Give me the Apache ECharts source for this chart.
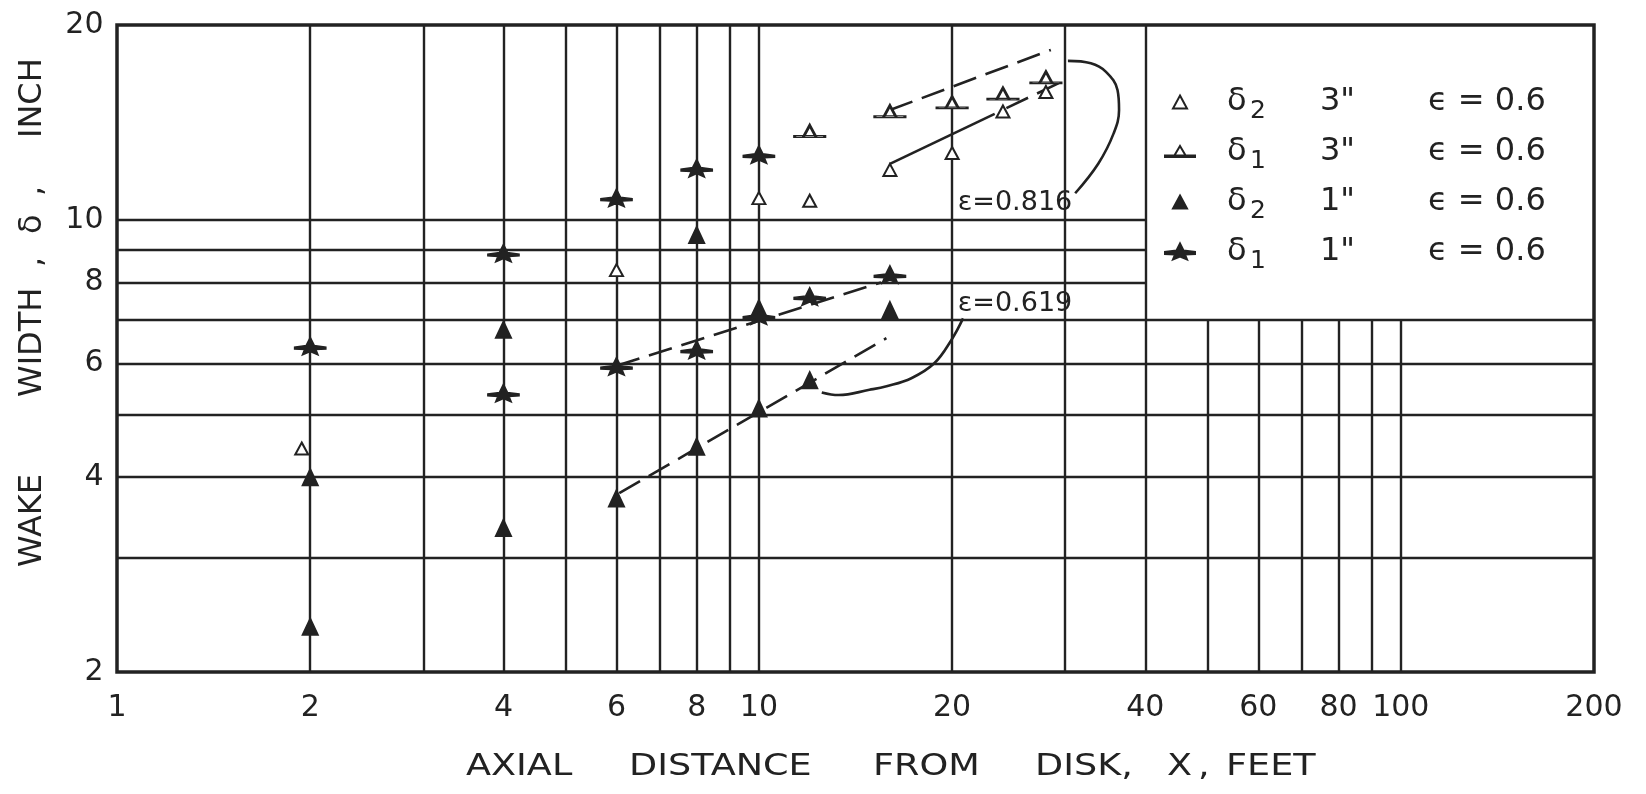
<!DOCTYPE html>
<html><head><meta charset="utf-8">
<script src="https://cdn.jsdelivr.net/npm/echarts@6/dist/echarts.min.js"></script>
<style>html,body{margin:0;padding:0;background:#fff}#c{width:1646px;height:794px}</style>
</head><body><div id="c"></div>
<script>
const INK = '#222';
const FONT = 'DejaVu Sans';

// ---- axis tick labels and grid lines (data units) ----
const xTickLabels = [1, 2, 4, 6, 8, 10, 20, 40, 60, 80, 100, 200];
const yTickLabels = [2, 4, 6, 8, 10, 20];
const xGridLines = [2, 3, 4, 5, 6, 7, 8, 9, 10, 20, 30, 40, 50, 60, 70, 80, 90, 100];
const yGridLines = [3, 4, 5, 6, 7, 8, 9, 10];
// legend box corner (data units): no grid inside x > 40, y > 7
const legendBoxX = 40, legendBoxY = 7;

// ---- series (x = axial distance ft, y = wake width in) ----
const seriesNames = ['δ2 3"', 'δ1 3"', 'δ2 1"', 'δ1 1"'];
const legendSub = ['2', '1', '2', '1'];
const legendSize = ['3"', '3"', '1"', '1"'];
const legendEps = ['ϵ = 0.6', 'ϵ = 0.6', 'ϵ = 0.6', 'ϵ = 0.6'];

const delta2_3in = [[1.94, 4.43], [6, 8.36], [10, 10.8], [12, 10.7], [16, 11.94], [20, 12.68], [24, 14.7], [28, 15.76]];
const delta1_3in = [[12, 13.7], [16, 14.7], [20, 15.17], [24, 15.65], [28, 16.58]];
const delta2_1in = [[2, 2.35], [2, 4.0], [4, 3.34], [4, 6.76], [6, 3.71], [8, 4.46], [8, 9.47], [10, 5.11], [10, 7.3], [12, 5.65], [16, 7.25]];
const delta1_1in = [[2, 6.37], [4, 8.87], [4, 5.39], [6, 10.8], [6, 5.93], [8, 12.0], [8, 6.29], [10, 12.6], [10, 7.1], [12, 7.6], [16, 8.22]];

// ---- fitted lines and annotation curves ----
const fit816Upper = [[16, 14.78], [28.5, 18.3]];
const fit816LowerSolid = [[16, 12.2], [23.3, 14.58]];
const fit816LowerDashed = [[24.3, 14.88], [30, 16.44]];
const fit619Upper = [[6, 5.95], [15.5, 8.0]];
const fit619Lower = [[6.06, 3.78], [15.8, 6.56]];
const curve816 = [[31.1, 10.99], [33.8, 12.22], [35.7, 13.6], [36.4, 14.78], [36.2, 15.87], [34.7, 16.94], [32.9, 17.45], [30.3, 17.6]];
const curve619 = [[20.8, 7.04], [19.95, 6.52], [18.76, 6.0], [17.28, 5.69], [15.81, 5.53], [14.87, 5.46], [13.31, 5.36], [12.53, 5.41]];
const annotationPos = [[20.37, 10.62], [20.37, 7.41]];
const annotationText = ['ε=0.816', 'ε=0.619'];

// marker shapes
const STAR_OPEN = 'path://M0,0 L6.5,11 L-6.5,11 Z M-15,9.5 L15,9.5 L15,11 L-15,11 Z';
const STAR_FILLED = 'path://M0,0 L3.5,7 L15,8.5 L15,10.5 L5,11 L7,16 L0,13 L-7,16 L-5,11 L-15,10.5 L-15,8.5 L-3.5,7 Z';
const TRI_ICON = 'path://M-15,0 M15,16 M0,2 L7,15 L-7,15 Z';
const symbols = ['triangle', STAR_OPEN, 'triangle', STAR_FILLED];
const legendIcons = [TRI_ICON, STAR_OPEN, TRI_ICON, STAR_FILLED];
const symbolSizes = [[13, 12], [30, 12], [15, 16], [30, 16]];
const fills = ['#fff', '#fff', INK, INK];
const dataSets = [delta2_3in, delta1_3in, delta2_1in, delta1_1in];

const chart = echarts.init(document.getElementById('c'), null, { renderer: 'canvas' });

function fitLine(data, dashed, smooth) {
  return {
    type: 'line', data, symbol: 'none', silent: true, z: 4, smooth: smooth || false,
    lineStyle: { color: INK, width: 2.6, type: dashed ? [24, 10] : 'solid' }
  };
}

const gridLineData = [
  ...xGridLines.map(x => [{ coord: [x, 2] }, { coord: [x, x > legendBoxX ? legendBoxY : 20] }]),
  ...yGridLines.map(y => [{ coord: [1, y] }, { coord: [y > legendBoxY ? legendBoxX : 200, y] }])
];

function textSeries(data, label) {
  return {
    type: 'scatter', silent: true, clip: false, symbolSize: 1, z: 6,
    itemStyle: { color: 'transparent', opacity: 1 },
    data,
    label: Object.assign({ show: true, color: INK, fontFamily: FONT, opacity: 1 }, label)
  };
}

const series = [
  {
    type: 'line', data: [], silent: true, z: 1,
    markLine: {
      silent: true, symbol: ['none', 'none'], animation: false,
      label: { show: false },
      lineStyle: { type: 'solid', color: INK, width: 2.4 },
      emphasis: { disabled: true },
      data: gridLineData
    }
  },
  ...dataSets.map((d, i) => ({
    type: 'scatter', name: seriesNames[i], data: d, symbol: symbols[i],
    symbolSize: symbolSizes[i], symbolKeepAspect: false, z: 5, silent: true,
    itemStyle: { color: fills[i], borderColor: INK, borderWidth: 2, opacity: 1 }
  })),
  fitLine(fit816Upper, true),
  fitLine(fit816LowerSolid, false),
  fitLine(fit816LowerDashed, true),
  fitLine(fit619Upper, true),
  fitLine(fit619Lower, true),
  fitLine(curve816, false, 0.4),
  fitLine(curve619, false, 0.4),
  textSeries(annotationPos.map((p, i) => ({ value: p, name: annotationText[i] })),
    { position: 'right', distance: 0, formatter: '{b}', fontSize: 27 }),
  textSeries(xTickLabels.map(v => [v, 2]),
    { position: 'bottom', distance: 21, formatter: p => String(p.value[0]), fontSize: 30 }),
  textSeries(yTickLabels.map(v => [1, v]),
    { position: 'left', distance: 13, formatter: p => String(p.value[1]), fontSize: 30 })
];

const XT = 1.18; // horizontal stretch of the x-axis title lettering

chart.setOption({
  animation: false,
  backgroundColor: '#fff',
  grid: { left: 117, right: 52, top: 25, bottom: 122, show: true, borderColor: INK, borderWidth: 3.5, backgroundColor: '#fff' },
  xAxis: {
    type: 'log', logBase: 10, min: 1, max: 200,
    axisLine: { show: false }, axisTick: { show: false }, axisLabel: { show: false }, splitLine: { show: false }, minorSplitLine: { show: false }
  },
  yAxis: {
    type: 'log', logBase: 10, min: 2, max: 20,
    axisLine: { show: false }, axisTick: { show: false }, axisLabel: { show: false }, splitLine: { show: false }, minorSplitLine: { show: false }
  },
  legend: {
    orient: 'vertical', left: 1159, top: 74, itemWidth: 30, itemHeight: 16, itemGap: 5,
    selectedMode: false,
    data: seriesNames.map((n, i) => ({
      name: n, icon: legendIcons[i],
      itemStyle: { color: fills[i], borderColor: INK, borderWidth: 2 }
    })),
    formatter: name => {
      const i = seriesNames.indexOf(name);
      return '{sp| }{d|δ}{s|' + legendSub[i] + '}{n|' + legendSize[i] + '}{e|' + legendEps[i] + '}';
    },
    textStyle: {
      color: INK, fontFamily: FONT, fontSize: 32,
      rich: {
        sp: { width: 27, fontSize: 32, lineHeight: 35 },
        d: { width: 23, fontSize: 32, lineHeight: 35, fontFamily: FONT, color: INK },
        s: { width: 70, fontSize: 25, lineHeight: 25, padding: [20, 0, 0, 0], fontFamily: FONT, color: INK },
        n: { width: 108, fontSize: 32, lineHeight: 35, fontFamily: FONT, color: INK },
        e: { fontSize: 32, lineHeight: 35, fontFamily: FONT, color: INK }
      }
    }
  },
  graphic: [
    {
      type: 'text', x: 466, y: 751, scaleX: XT, silent: true,
      style: {
        text: '{a|AXIAL }{b|DISTANCE }{c|FROM }{d|DISK, }{e|X }{f|, }{g|FEET}',
        fill: INK, font: '31px "DejaVu Sans"', align: 'left', verticalAlign: 'top',
        rich: {
          a: { width: 163 / XT, fontSize: 31, fontFamily: FONT, fill: INK },
          b: { width: 244 / XT, fontSize: 31, fontFamily: FONT, fill: INK },
          c: { width: 162 / XT, fontSize: 31, fontFamily: FONT, fill: INK },
          d: { width: 132 / XT, fontSize: 31, fontFamily: FONT, fill: INK },
          e: { width: 31 / XT, fontSize: 31, fontFamily: FONT, fill: INK },
          f: { width: 28 / XT, fontSize: 31, fontFamily: FONT, fill: INK },
          g: { fontSize: 31, fontFamily: FONT, fill: INK }
        }
      }
    },
    {
      type: 'text', x: 17, y: 567, rotation: Math.PI / 2, silent: true,
      style: {
        text: '{a|WAKE }{b|WIDTH }{c|, }{d|δ }{e|, }{f|INCH}',
        fill: INK, font: '32px "DejaVu Sans"', align: 'left', verticalAlign: 'top',
        rich: {
          a: { width: 170, fontSize: 32, fontFamily: FONT, fill: INK },
          b: { width: 130, fontSize: 32, fontFamily: FONT, fill: INK },
          c: { width: 33, fontSize: 32, fontFamily: FONT, fill: INK },
          d: { width: 38, fontSize: 32, fontFamily: FONT, fill: INK },
          e: { width: 58, fontSize: 32, fontFamily: FONT, fill: INK },
          f: { fontSize: 32, fontFamily: FONT, fill: INK }
        }
      }
    }
  ],
  series
});
</script></body></html>
